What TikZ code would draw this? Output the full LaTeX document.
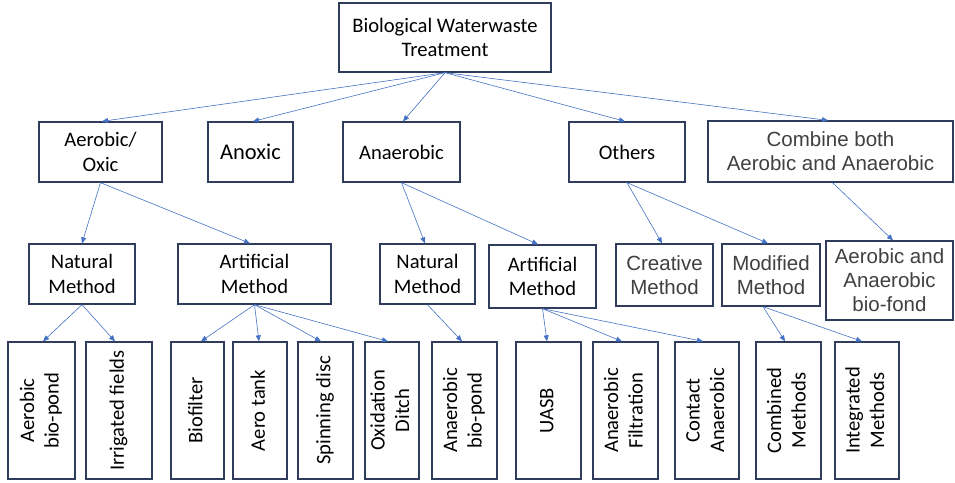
\documentclass[tikz,border=0pt]{standalone}
\usepackage{fontspec}
\setmainfont{Carlito}
\newfontfamily\arialf{Liberation Sans}
\usepackage{graphicx}
\usetikzlibrary{arrows.meta}
\definecolor{boxline}{RGB}{47,60,92}
\definecolor{arrowblue}{RGB}{68,114,196}
\definecolor{graytext}{RGB}{64,64,64}
\newcommand{\vtext}[1]{\rotatebox{90}{\begin{tabular}{@{}c@{}}#1\end{tabular}}}
\begin{document}
\begin{tikzpicture}[x=1pt,y=-1pt,
  box/.style={draw=boxline, line width=1.3pt, fill=white, inner sep=0pt, align=center,
    font=\fontsize{20.6}{24.5}\selectfont, text=black},
  graybox/.style={box, font=\arialf\fontsize{20.5}{24}\selectfont, text=graytext},
  vbox/.style={box, minimum width=#1, minimum height=137pt},
  conn/.style={draw=arrowblue, line width=0.6pt, -{Triangle[length=6pt,width=5pt]}}]
\useasboundingbox (0,0) rectangle (955,482);

% level 0
\node[box, minimum width=212pt, minimum height=69pt] (top) at (445,37.5) {Biological Waterwaste\\Treatment};

% level 1
\node[box, minimum width=123pt, minimum height=60pt] (aer) at (100.5,152) {Aerobic/\\Oxic};
\node[box, minimum width=85pt, minimum height=60pt, font=\fontsize{22.5}{26}\selectfont] (anox) at (250.5,152) {Anoxic};
\node[box, minimum width=117pt, minimum height=60pt] (anaer) at (401.5,152) {Anaerobic};
\node[box, minimum width=116pt, minimum height=60pt] (oth) at (627,152) {Others};
\node[graybox, minimum width=245pt, minimum height=61pt] (comb) at (830.5,151.5) {Combine both\\Aerobic and Anaerobic};

% level 2
\node[box, minimum width=106pt, minimum height=60pt] (nat1) at (82,274) {Natural\\Method};
\node[box, minimum width=153pt, minimum height=60pt] (art1) at (254.5,274) {Artificial\\Method};
\node[box, minimum width=95pt, minimum height=60pt] (nat2) at (427.5,274) {Natural\\Method};
\node[box, minimum width=107pt, minimum height=63pt] (art2) at (542.5,276.5) {Artificial\\Method};
\node[graybox, minimum width=97pt, minimum height=62pt] (crea) at (664.5,275) {Creative\\Method};
\node[graybox, minimum width=98pt, minimum height=62pt] (mod) at (771,275) {Modified\\Method};
\node[graybox, minimum width=127pt, minimum height=79pt] (biof) at (889.5,280.5) {Aerobic and\\Anaerobic\\bio-fond};

% level 3
\node[vbox=67pt] (b1) at (41.5,410.5) {\vtext{Aerobic\\bio-pond}};
\node[vbox=66pt] (b2) at (119,410.5) {\vtext{Irrigated fields}};
\node[vbox=53pt] (b3) at (197.5,410.5) {\vtext{Biofilter}};
\node[vbox=54pt] (b4) at (260,410.5) {\vtext{Aero tank}};
\node[vbox=55pt] (b5) at (325.5,410.5) {\vtext{Spinning disc}};
\node[vbox=54pt] (b6) at (392,410.5) {\vtext{Oxidation\\Ditch}};
\node[vbox=65pt] (b7) at (464.5,410.5) {\vtext{Anaerobic\\bio-pond}};
\node[vbox=65pt] (b8) at (548.5,410.5) {\vtext{UASB}};
\node[vbox=65pt] (b9) at (625.5,410.5) {\vtext{Anaerobic\\Filtration}};
\node[vbox=64pt] (b10) at (707,410.5) {\vtext{Contact\\Anaerobic}};
\node[vbox=65pt] (b11) at (788.5,410.5) {\vtext{Combined\\Methods}};
\node[vbox=64pt] (b12) at (867,410.5) {\vtext{Integrated\\Methods}};

% connectors level 0 -> 1
\draw[conn] (top.south) -- ([xshift=1.5pt]aer.north);
\draw[conn] (top.south) -- ([xshift=2.5pt]anox.north);
\draw[conn] (top.south) -- ([xshift=1.5pt]anaer.north);
\draw[conn] (top.south) -- ([xshift=-2pt]oth.north);
\draw[conn] (top.south) -- ([xshift=-2.5pt]comb.north);

% level 1 -> 2
\draw[conn] (aer.south) -- (nat1.north);
\draw[conn] (aer.south) -- ([xshift=-4.5pt]art1.north);
\draw[conn] (anaer.south) -- ([xshift=-2.5pt]nat2.north);
\draw[conn] (anaer.south) -- ([xshift=-4.5pt]art2.north);
\draw[conn] (oth.south) -- ([xshift=-2.5pt]crea.north);
\draw[conn] (oth.south) -- ([xshift=-3pt]mod.north);
\draw[conn] ([xshift=2pt]comb.south) -- ([xshift=3.5pt]biof.north);

% level 2 -> 3
\draw[conn] (nat1.south) -- ([xshift=1.5pt]b1.north);
\draw[conn] (nat1.south) -- ([xshift=-4pt]b2.north);
\draw[conn] (art1.south) -- ([xshift=3.5pt]b3.north);
\draw[conn] (art1.south) -- ([xshift=-1pt]b4.north);
\draw[conn] (art1.south) -- ([xshift=-4.5pt]b5.north);
\draw[conn] (art1.south) -- ([xshift=-4pt]b6.north);
\draw[conn] (nat2.south) -- ([xshift=-2.5pt]b7.north);
\draw[conn] (art2.south) -- ([xshift=-1.5pt]b8.north);
\draw[conn] (art2.south) -- ([xshift=-3.5pt]b9.north);
\draw[conn] (art2.south) -- ([xshift=-4pt]b10.north);
\draw[conn] ([xshift=-8pt]mod.south) -- ([xshift=-3.5pt]b11.north);
\draw[conn] ([xshift=-8pt]mod.south) -- ([xshift=-5pt]b12.north);
\end{tikzpicture}
\end{document}
